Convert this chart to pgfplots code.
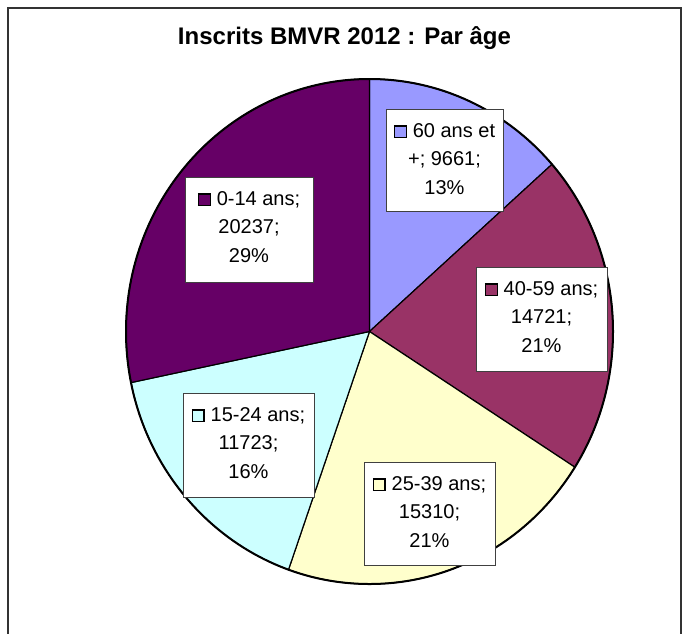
\documentclass[border=0pt]{standalone}
\usepackage{pgfplots}
\usepackage{pgfplotstable}
\pgfplotsset{compat=1.18}
\usetikzlibrary{calc}
\usepackage{fontspec}
\setmainfont{Liberation Sans}

% Excel palette, one colour per slice (same order as the table)
\definecolor{s0}{HTML}{9999FF}
\definecolor{s1}{HTML}{993366}
\definecolor{s2}{HTML}{FFFFCC}
\definecolor{s3}{HTML}{CCFFFF}
\definecolor{s4}{HTML}{660066}

\pgfplotstableread{
group value
60+   9661
40-59 14721
25-39 15310
15-24 11723
0-14  20237
}\agedata

\newcommand\lab{\fontsize{20}{28}\selectfont}
\newcommand\key[1]{{\setlength\fboxsep{0pt}\setlength\fboxrule{1.2pt}%
  \fcolorbox{black}{#1}{\rule{0pt}{10.5pt}\rule{10.5pt}{0pt}}}\hspace{6pt}}
% box: left top right bottom colour line1 line2 line3 (picture coords, y down)
\newcommand\plabel[8]{%
  \draw[black!75, line width=0.8pt, fill=white] (axis cs:#1,#2) rectangle (axis cs:#3,#4);
  \node[anchor=base, inner sep=0pt, font=\lab] at ($(axis cs:#1,#2)!0.5!(axis cs:#3,#2)+(0,-28pt)$) {\key{#5}#6};
  \node[anchor=base, inner sep=0pt, font=\lab] at ($(axis cs:#1,#2)!0.5!(axis cs:#3,#2)+(0,-56.5pt)$) {#7};
  \node[anchor=base, inner sep=0pt, font=\lab] at ($(axis cs:#1,#2)!0.5!(axis cs:#3,#2)+(0,-85pt)$) {#8};
}

\begin{document}
\begin{tikzpicture}
% slice angles, clockwise from 12 o'clock
\gdef\total{0}
\pgfplotstableforeachcolumnelement{value}\of\agedata\as\v{%
  \xdef\total{\fpeval{\total+\v}}}
\gdef\cum{90}
\pgfplotstableforeachcolumnelement{value}\of\agedata\as\v{%
  \expandafter\xdef\csname as\pgfplotstablerow\endcsname{\cum}%
  \xdef\cum{\fpeval{round(\cum-360*\v/\total,4)}}%
  \expandafter\xdef\csname ae\pgfplotstablerow\endcsname{\cum}}

\begin{axis}[
    at={(0,0)}, anchor=south west,
    width=688pt, height=633pt, scale only axis,
    xmin=0, xmax=688, ymin=0, ymax=633, y dir=reverse,
    hide axis,
]
% outer frame (bottom edge lies below the picture)
\draw[black!80, line width=1.8pt] (axis cs:8,700) -- (axis cs:8,8) -- (axis cs:681,8) -- (axis cs:681,700);

\node[anchor=base, font=\fontsize{24}{28}\selectfont\bfseries] at (axis cs:344.5,44) {Inscrits BMVR 2012 : Par âge};

\pgfplotsinvokeforeach{0,...,4}{
  \filldraw[fill=s#1, draw=black, line width=1.2pt]
    (axis cs:369.5,331.5) -- ++(\csname as#1\endcsname:243.5pt and 252.5pt)
    arc[start angle=\csname as#1\endcsname, end angle=\csname ae#1\endcsname,
        x radius=243.5pt, y radius=252.5pt] -- cycle;
}
\draw[black, line width=2pt] (axis cs:369.5,331.5) ellipse [x radius=243.5pt, y radius=252.5pt];

\plabel{386}{109}{503}{211}{s0}{60 ans et}{+; 9661;}{13\%}
\plabel{476}{267}{607}{371}{s1}{40-59 ans;}{14721;}{21\%}
\plabel{364}{462}{495}{565}{s2}{25-39 ans;}{15310;}{21\%}
\plabel{183}{393}{314}{497}{s3}{15-24 ans;}{11723;}{16\%}
\plabel{185}{177}{313}{282}{s4}{0-14 ans;}{20237;}{29\%}
\end{axis}
\pgfresetboundingbox
\path (0,0) rectangle (688pt,633pt);
\end{tikzpicture}
\end{document}
